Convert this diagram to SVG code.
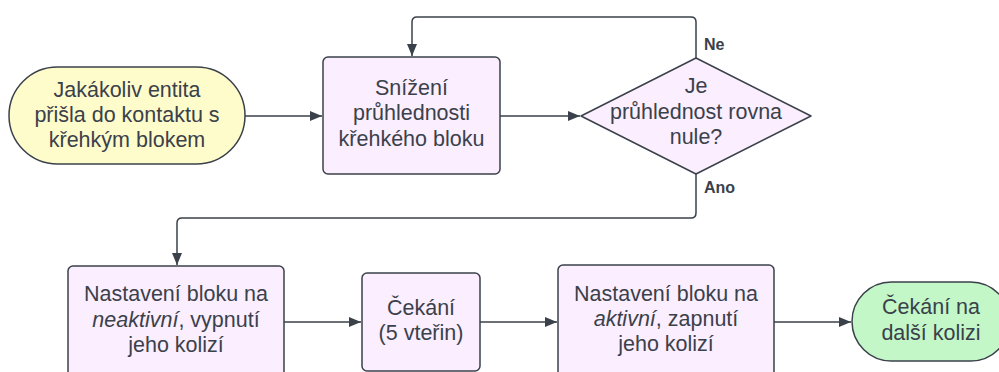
<svg xmlns="http://www.w3.org/2000/svg" width="999" height="372" viewBox="0 0 999 372">
  <style>
    .shape { stroke: #3a414a; stroke-width: 1.5; }
    .proc { fill: #fbeeff; }
    .start { fill: #fffccc; }
    .end { fill: #c3f7c8; }
    .lbl { font-family: "Liberation Sans", Arial, sans-serif; font-size: 21.5px; fill: #3a414a; text-anchor: middle; }
    .tag { font-family: "Liberation Sans", Arial, sans-serif; font-size: 16px; font-weight: bold; fill: #3a414a; }
    .edge { fill: none; stroke: #3a414a; stroke-width: 1.5; marker-end: url(#arrow); }
  </style>
  <defs>
    <marker id="arrow" viewBox="0 0 12 10" refX="12" refY="5" markerWidth="12" markerHeight="10" markerUnits="userSpaceOnUse" orient="auto">
      <path d="M0,0 L12,5 L0,10 Z" fill="#3a414a"/>
    </marker>
  </defs>
  <rect width="999" height="372" fill="#ffffff"/>

  <g id="connectors">
    <path class="edge" d="M245,116 H322"/>
    <path class="edge" d="M500,116 H580"/>
    <path class="edge" d="M696,58 V22 Q696,17 691,17 H417 Q412,17 412,22 V56"/>
    <path class="edge" d="M696,174 V213 Q696,218 691,218 H182 Q177,218 177,223 V265"/>
    <path class="edge" d="M284,322 H361"/>
    <path class="edge" d="M480,322 H557"/>
    <path class="edge" d="M774,322 H851"/>
    <text class="tag" x="704" y="50">Ne</text>
    <text class="tag" x="704" y="193">Ano</text>
  </g>

  <g id="start">
    <rect class="shape start" x="9" y="67" width="236" height="97" rx="48.5"/>
    <text class="lbl" x="127" y="97">Jakákoliv entita</text>
    <text class="lbl" x="127" y="122">přišla do kontaktu s</text>
    <text class="lbl" x="127" y="147">křehkým blokem</text>
  </g>

  <g id="reduce">
    <rect class="shape proc" x="323" y="57" width="177" height="117" rx="5"/>
    <text class="lbl" x="411.5" y="94.5">Snížení</text>
    <text class="lbl" x="411.5" y="120">průhlednosti</text>
    <text class="lbl" x="411.5" y="145.5">křehkého bloku</text>
  </g>

  <g id="decision">
    <path class="shape proc" d="M696,58 L811,116 L696,174 L581,116 Z" stroke-linejoin="round"/>
    <text class="lbl" x="696" y="93">Je</text>
    <text class="lbl" x="696" y="118.5">průhlednost rovna</text>
    <text class="lbl" x="696" y="143.5">nule?</text>
  </g>

  <g id="deactivate">
    <rect class="shape proc" x="68" y="266" width="216" height="130" rx="5"/>
    <text class="lbl" x="176" y="301">Nastavení bloku na</text>
    <text class="lbl" x="176" y="326.5"><tspan font-style="italic">neaktivní</tspan>, vypnutí</text>
    <text class="lbl" x="176" y="352">jeho kolizí</text>
  </g>

  <g id="wait">
    <rect class="shape proc" x="362" y="273" width="118" height="98" rx="5"/>
    <text class="lbl" x="421" y="314.5">Čekání</text>
    <text class="lbl" x="421" y="340">(5 vteřin)</text>
  </g>

  <g id="activate">
    <rect class="shape proc" x="558" y="265" width="216" height="130" rx="5"/>
    <text class="lbl" x="666" y="301">Nastavení bloku na</text>
    <text class="lbl" x="666" y="326"><tspan font-style="italic">aktivní</tspan>, zapnutí</text>
    <text class="lbl" x="666" y="351">jeho kolizí</text>
  </g>

  <g id="end">
    <rect class="shape end" x="852" y="282" width="158" height="79" rx="39.5"/>
    <text class="lbl" x="931" y="313.5">Čekání na</text>
    <text class="lbl" x="931" y="340">další kolizi</text>
  </g>
</svg>
